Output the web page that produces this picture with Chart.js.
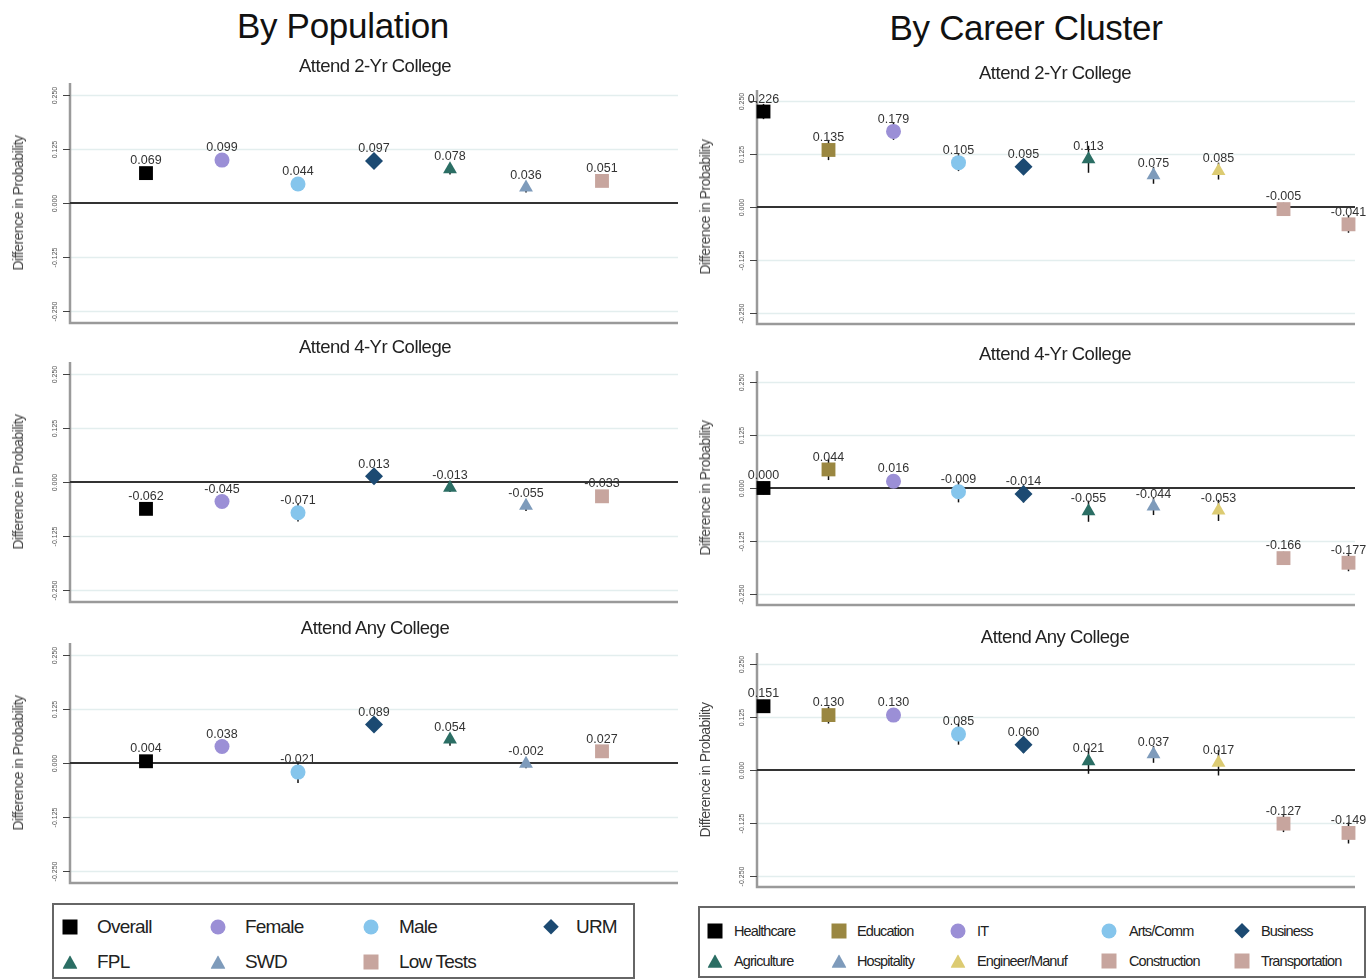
<!DOCTYPE html>
<html>
<head>
<meta charset="utf-8">
<script src="https://cdn.jsdelivr.net/npm/chart.js@4.4.1/dist/chart.umd.min.js"></script>
<style>
  html, body { margin: 0; padding: 0; background: #fff; }
  #page { position: relative; width: 1367px; height: 980px; overflow: hidden; background: #fff;
          font-family: "Liberation Sans", Arial, sans-serif; color: #111; }
  .abs { position: absolute; }
  .ctr { position: absolute; transform: translate(-50%, -50%); white-space: nowrap; }
  .colTitle { font-size: 35px; color: #111; letter-spacing: -0.3px; }
  .subTitle { font-size: 18.5px; color: #222; letter-spacing: -0.5px; }
  .yTitle { position: absolute; transform: translate(-50%, -50%) rotate(-90deg); white-space: nowrap;
            font-family: "Liberation Sans", Arial, sans-serif; font-weight: normal;
            font-size: 14px; letter-spacing: -0.5px; color: #444; }
  .legend { position: absolute; border: 2px solid #666; box-sizing: border-box; background: #fff; }
  .lgItem { position: absolute; white-space: nowrap; transform: translateY(-50%); color: #222; }
  .mk { position: absolute; transform: translate(-50%, -50%); }
</style>
</head>
<body>
<div id="page">
  <div class="ctr colTitle" style="left:343px; top:26px;">By Population</div>
  <div class="ctr colTitle" style="left:1026px; top:28px;">By Career Cluster</div>
</div>
<script>
// ---- categories ----
const popGroups = ['Overall', 'Female', 'Male', 'URM', 'FPL', 'SWD', 'Low Tests'];
const careerGroups = ['Healthcare', 'Education', 'IT', 'Arts/Comm', 'Business',
                      'Agriculture', 'Hospitality', 'Engineer/Manuf', 'Construction', 'Transportation'];

// ---- panel titles ----
const panelTitles = ['Attend 2-Yr College', 'Attend 4-Yr College', 'Attend Any College'];
const yAxisTitle = 'Difference in Probability';

// ---- estimates by population ----
const pop2yr  = [0.069, 0.099, 0.044, 0.097, 0.078, 0.036, 0.051];
const pop4yr  = [-0.062, -0.045, -0.071, 0.013, -0.013, -0.055, -0.033];
const popAny  = [0.004, 0.038, -0.021, 0.089, 0.054, -0.002, 0.027];
// half-width of the confidence interval
const pop2yrCI = [0.006, 0.008, 0.008, 0.010, 0.012, 0.012, 0.008];
const pop4yrCI = [0.006, 0.008, 0.020, 0.012, 0.010, 0.012, 0.008];
const popAnyCI = [0.006, 0.008, 0.025, 0.010, 0.014, 0.010, 0.008];

// ---- estimates by career cluster ----
const career2yr = [0.226, 0.135, 0.179, 0.105, 0.095, 0.113, 0.075, 0.085, -0.005, -0.041];
const career4yr = [0.000, 0.044, 0.016, -0.009, -0.014, -0.055, -0.044, -0.053, -0.166, -0.177];
const careerAny = [0.151, 0.130, 0.130, 0.085, 0.060, 0.021, 0.037, 0.017, -0.127, -0.149];
const career2yrCI = [0.018, 0.024, 0.020, 0.020, 0.012, 0.032, 0.020, 0.020, 0.015, 0.020];
const career4yrCI = [0.015, 0.025, 0.015, 0.025, 0.020, 0.025, 0.020, 0.025, 0.015, 0.020];
const careerAnyCI = [0.015, 0.020, 0.015, 0.025, 0.020, 0.030, 0.020, 0.030, 0.020, 0.025];

// ---- y axis ----
const yTicks = [-0.25, -0.125, 0, 0.125, 0.25];
const yTickLabels = ['-0.250', '-0.125', '0.000', '0.125', '0.250'];
const yMin = -0.277, yMax = 0.277;

// ---- marker styles ----
const popColors = ['#000000', '#9b8fd6', '#85c5ec', '#1c4a72', '#2b6e64', '#7e9bbb', '#c7a59e'];
const popShapes = ['rect', 'circle', 'circle', 'rectRot', 'triangle', 'triangle', 'rect'];
const careerColors = ['#000000', '#9a8741', '#9b8fd6', '#85c5ec', '#1c4a72',
                      '#2b6e64', '#7e9bbb', '#dccb72', '#c7a59e', '#c7a59e'];
const careerShapes = ['rect', 'rect', 'circle', 'circle', 'rectRot',
                      'triangle', 'triangle', 'triangle', 'rect', 'rect'];
const shapeRadius = { rect: 9.8, circle: 7.5, rectRot: 9, triangle: 8 };

const labelFont = '12.5px "Liberation Sans", Arial, sans-serif';
const tickFont = '7px "Liberation Sans", Arial, sans-serif';

// Axes, grid, zero line, CI spikes and value labels in the Stata look
const stataPlot = {
  id: 'stataPlot',
  beforeDatasetsDraw(chart) {
    const { ctx, chartArea: a, scales: { x, y } } = chart;
    const cfg = chart.options.plugins.stataPlot;
    ctx.save();
    // horizontal grid
    ctx.strokeStyle = '#e3eeee';
    ctx.lineWidth = 1.5;
    yTicks.forEach(t => {
      if (t === 0) return;
      const py = Math.round(y.getPixelForValue(t)) + 0.5;
      ctx.beginPath(); ctx.moveTo(a.left, py); ctx.lineTo(a.right, py); ctx.stroke();
    });
    // axis lines
    ctx.strokeStyle = '#9a9a9a';
    ctx.lineWidth = 2.5;
    ctx.beginPath();
    ctx.moveTo(a.left, a.top); ctx.lineTo(a.left, a.bottom); ctx.lineTo(a.right, a.bottom);
    ctx.stroke();
    // tick marks and rotated labels
    ctx.strokeStyle = '#444';
    ctx.lineWidth = 1;
    ctx.fillStyle = '#555';
    ctx.font = tickFont;
    ctx.textAlign = 'center';
    ctx.textBaseline = 'middle';
    yTicks.forEach((t, i) => {
      const py = Math.round(y.getPixelForValue(t)) + 0.5;
      ctx.beginPath(); ctx.moveTo(a.left - 7, py); ctx.lineTo(a.left, py); ctx.stroke();
      ctx.save();
      ctx.translate(a.left - 15, py);
      ctx.rotate(-Math.PI / 2);
      ctx.fillText(yTickLabels[i], 0, 0);
      ctx.restore();
    });
    // zero reference line
    ctx.strokeStyle = '#333';
    ctx.lineWidth = 1.8;
    const y0 = y.getPixelForValue(0);
    ctx.beginPath(); ctx.moveTo(a.left, y0); ctx.lineTo(a.right, y0); ctx.stroke();
    // confidence spikes
    ctx.strokeStyle = '#111';
    ctx.lineWidth = 1.5;
    cfg.values.forEach((v, i) => {
      const px = x.getPixelForValue(i + 1);
      ctx.beginPath();
      ctx.moveTo(px, y.getPixelForValue(v - cfg.ci[i]));
      ctx.lineTo(px, y.getPixelForValue(v + cfg.ci[i]));
      ctx.stroke();
    });
    ctx.restore();
  },
  afterDatasetsDraw(chart) {
    const { ctx, scales: { x, y } } = chart;
    const cfg = chart.options.plugins.stataPlot;
    ctx.save();
    ctx.font = labelFont;
    ctx.fillStyle = '#333';
    ctx.textAlign = 'center';
    ctx.textBaseline = 'bottom';
    cfg.values.forEach((v, i) => {
      ctx.fillText(v.toFixed(3), x.getPixelForValue(i + 1), y.getPixelForValue(v) - 6);
    });
    ctx.restore();
  }
};

const page = document.getElementById('page');

function addDiv(cls, text, left, top, extra) {
  const d = document.createElement('div');
  d.className = cls;
  d.textContent = text;
  d.style.left = left + 'px';
  d.style.top = top + 'px';
  if (extra) Object.assign(d.style, extra);
  page.appendChild(d);
  return d;
}

// one panel: canvas box plus the chart area inside it
function panel(box, area, xRange, values, ci, colors, shapes, title, titleY, titleX) {
  const c = document.createElement('canvas');
  c.width = box.w; c.height = box.h;
  c.className = 'abs';
  c.style.left = box.x + 'px'; c.style.top = box.y + 'px';
  c.style.width = box.w + 'px'; c.style.height = box.h + 'px';
  page.appendChild(c);

  addDiv('ctr subTitle', title, titleX, titleY);
  addDiv('yTitle', yAxisTitle, area.left - 52, (area.top + area.bottom) / 2);

  new Chart(c, {
    type: 'scatter',
    data: {
      datasets: [{
        data: values.map((v, i) => ({ x: i + 1, y: v })),
        pointStyle: shapes,
        pointRadius: shapes.map(s => shapeRadius[s]),
        pointHoverRadius: shapes.map(s => shapeRadius[s]),
        backgroundColor: colors,
        borderColor: colors,
        borderWidth: 0,
        clip: false
      }]
    },
    options: {
      responsive: false,
      animation: false,
      devicePixelRatio: 1,
      events: [],
      layout: {
        padding: {
          left: area.left - box.x,
          right: box.x + box.w - area.right,
          top: area.top - box.y,
          bottom: box.y + box.h - area.bottom
        }
      },
      scales: {
        x: { type: 'linear', min: xRange[0], max: xRange[1], display: false },
        y: { type: 'linear', min: yMin, max: yMax, display: false }
      },
      plugins: {
        legend: { display: false },
        tooltip: { enabled: false },
        stataPlot: { values: values, ci: ci }
      }
    },
    plugins: [stataPlot]
  });
}

// left column: by population
const leftX = [0, 8];
const popSets = [[pop2yr, pop2yrCI], [pop4yr, pop4yrCI], [popAny, popAnyCI]];
const leftAreas = [[83, 323, 66], [362, 602, 347], [643, 883, 628]];
popSets.forEach((s, k) => {
  const [top, bottom, ty] = leftAreas[k];
  panel({ x: 0, y: top - 22, w: 690, h: bottom - top + 34 },
        { left: 70, right: 678, top: top, bottom: bottom },
        leftX, s[0], s[1], popColors, popShapes, panelTitles[k], ty, 375);
});

// right column: by career cluster
const rightX = [0.9, 10.1];
const careerSets = [[career2yr, career2yrCI], [career4yr, career4yrCI], [careerAny, careerAnyCI]];
const rightAreas = [[90, 324, 73], [371, 605, 354], [653, 887, 637]];
careerSets.forEach((s, k) => {
  const [top, bottom, ty] = rightAreas[k];
  panel({ x: 690, y: top - 22, w: 677, h: bottom - top + 34 },
        { left: 757, right: 1355, top: top, bottom: bottom },
        rightX, s[0], s[1], careerColors, careerShapes, panelTitles[k], ty, 1055);
});

// legends
function marker(shape, color, size) {
  const m = document.createElement('div');
  m.className = 'mk';
  m.style.background = color;
  if (shape === 'rect') { m.style.width = size + 'px'; m.style.height = size + 'px'; }
  if (shape === 'circle') { m.style.width = size + 'px'; m.style.height = size + 'px'; m.style.borderRadius = '50%'; }
  if (shape === 'rectRot') {
    m.style.width = size * 0.75 + 'px'; m.style.height = size * 0.75 + 'px';
    m.style.transform = 'translate(-50%, -50%) rotate(45deg)';
  }
  if (shape === 'triangle') {
    m.style.width = size + 'px'; m.style.height = size * 0.9 + 'px';
    m.style.clipPath = 'polygon(50% 0, 100% 100%, 0 100%)';
  }
  return m;
}

function legend(box, names, colors, shapes, cols, rows, fontSize, mSize, letterSpacing) {
  const lg = document.createElement('div');
  lg.className = 'legend';
  Object.assign(lg.style, { left: box.x + 'px', top: box.y + 'px', width: box.w + 'px', height: box.h + 'px' });
  page.appendChild(lg);
  names.forEach((n, i) => {
    const r = Math.floor(i / cols.length), c = i % cols.length;
    const m = marker(shapes[i], colors[i], mSize);
    m.style.left = (cols[c][0] - box.x) + 'px';
    m.style.top = (rows[r] - box.y) + 'px';
    lg.appendChild(m);
    const t = document.createElement('div');
    t.className = 'lgItem';
    t.textContent = n;
    Object.assign(t.style, { left: (cols[c][1] - box.x) + 'px', top: (rows[r] - box.y) + 'px',
                             fontSize: fontSize + 'px', letterSpacing: letterSpacing + 'px' });
    lg.appendChild(t);
  });
}

legend({ x: 52, y: 903, w: 583, h: 76 }, popGroups, popColors, popShapes,
       [[68, 95], [216, 243], [369, 397], [549, 574]], [925, 960], 19, 15, -0.8);
legend({ x: 698, y: 906, w: 668, h: 72 }, careerGroups, careerColors, careerShapes,
       [[713, 732], [837, 855], [956, 975], [1107, 1127], [1240, 1259]], [929, 959], 14.5, 15, -0.9);
</script>
</body>
</html>
